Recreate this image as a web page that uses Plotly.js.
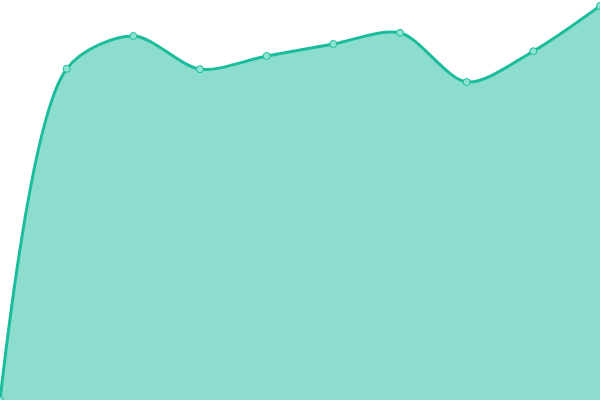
<!DOCTYPE html>
<html>
<head>
<meta charset="utf-8">
<script src="https://cdn.plot.ly/plotly-3.0.1.min.js"></script>
<style>html,body{margin:0;padding:0;background:#fff;}#chart{width:600px;height:400px;}</style>
</head>
<body>
<div id="chart"></div>
<script>
const categories = [0, 1, 2, 3, 4, 5, 6, 7, 8, 9];
const values = [0, 82.8, 91, 82.7, 86, 89, 91.8, 79.5, 87.2, 98.5];

const trace = {
  x: categories,
  y: values,
  type: 'scatter',
  mode: 'lines+markers',
  fill: 'tozeroy',
  fillcolor: 'rgba(26,188,156,0.5)',
  line: {color: '#1abc9c', width: 3, shape: 'spline', smoothing: 0.85},
  marker: {size: 7, color: '#8fe3d3', line: {color: '#1abc9c', width: 1}},
  hoverinfo: 'none'
};

const layout = {
  width: 600, height: 400,
  margin: {l: 0, r: 0, t: 0, b: 0},
  paper_bgcolor: '#ffffff',
  plot_bgcolor: '#ffffff',
  showlegend: false,
  xaxis: {range: [0, 9], visible: false, showgrid: false, zeroline: false},
  yaxis: {range: [0, 100], visible: false, showgrid: false, zeroline: false}
};

Plotly.newPlot('chart', [trace], layout, {displayModeBar: false, staticPlot: true});
</script>
</body>
</html>
